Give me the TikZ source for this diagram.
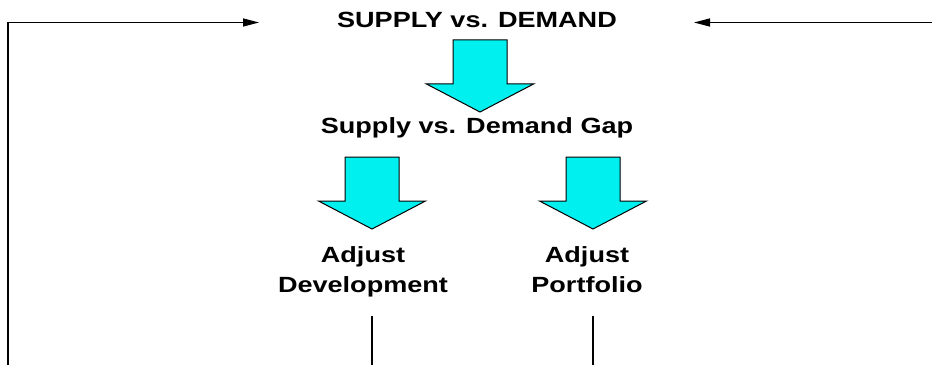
\documentclass[tikz,border=0pt]{standalone}
\usepackage{fontspec}
\setmainfont{Liberation Sans}
\usetikzlibrary{arrows.meta}
\usetikzlibrary{positioning}
\definecolor{arrowcyan}{RGB}{0,240,240}

\tikzset{
    flowtext/.style={font=\bfseries\fontsize{22}{30}\selectfont, xscale=1.23, inner sep=0pt, anchor=base, align=center},
    feedback/.style={line width=1.4pt, -{Triangle[length=16pt, width=8pt]}},
    stem/.style={line width=1.2pt},
    blockarrow/.pic={\draw[fill=arrowcyan, line width=1pt, line join=miter]
        (-27,0) -- (-27,-44) -- (-53.5,-44) -- (0,-72) -- (53.5,-44) -- (27,-44) -- (27,0) -- cycle;}
}

\begin{document}
\begin{tikzpicture}[x=1pt, y=1pt]
    \useasboundingbox (0,0) rectangle (932,365);

    \node (sd) [flowtext] at (477,337) {SUPPLY vs. DEMAND};
    \node (gap) [flowtext] at (477,232) {Supply vs. Demand Gap};
    % base of a two line node is the last line
    \node (dev) [flowtext] at (363,73) {Adjust\\Development};
    \node (port) [flowtext] at (587,73) {Adjust\\Portfolio};

    % block arrows between the levels
    \pic at (480,325) {blockarrow};
    \pic at (372,208) {blockarrow};
    \pic at (593,208) {blockarrow};

    % feedback loops back into the top
    \coordinate (loopL) at (8,0);
    \coordinate (loopR) at (932,342.5);
    \coordinate (inL) at (259,342.5);
    \coordinate (inR) at (694,342.5);
    \draw[feedback] (loopL) |- (inL);
    \draw[feedback] (loopR) -- (inR);

    \coordinate (devfoot) at (372,0);
    \coordinate (portfoot) at (593,0);
    \draw[stem] (devfoot) -- ++(0,49);
    \draw[stem] (portfoot) -- ++(0,49);
\end{tikzpicture}
\end{document}
